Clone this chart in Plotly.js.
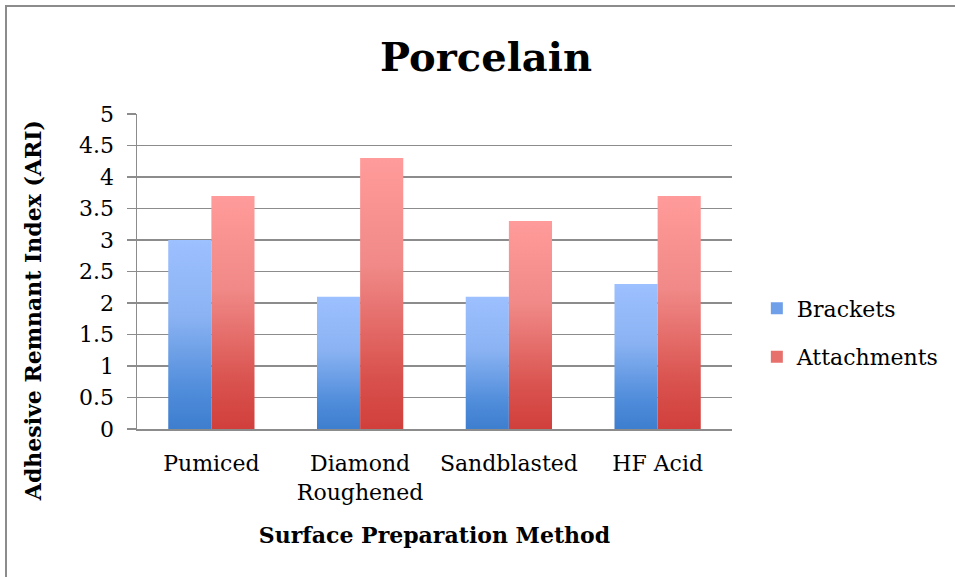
<!DOCTYPE html>
<html>
<head>
<meta charset="utf-8">
<script src="https://cdn.plot.ly/plotly-3.0.1.min.js"></script>
<style>
  html, body { margin: 0; padding: 0; background: #ffffff; }
  #wrap { position: relative; width: 955px; height: 577px; overflow: hidden; }
  #chart { position: absolute; left: 0; top: 0; width: 955px; height: 577px; }
  #frame { position: absolute; left: 5px; top: 5px; width: 1000px; height: 1000px;
           border-left: 2px solid #8c8c8c; border-top: 2px solid #8c8c8c; pointer-events: none; }
</style>
</head>
<body>
<div id="wrap">
  <div id="chart"></div>
  <div id="frame"></div>
</div>
<script>
// ---- data ----
const categories = ['Pumiced', 'Diamond Roughened', 'Sandblasted', 'HF Acid'];
const tickLabels = ['Pumiced', 'Diamond<br>Roughened', 'Sandblasted', 'HF Acid'];
const seriesNames = ['Brackets', 'Attachments'];
const brackets = [3.0, 2.1, 2.1, 2.3];
const attachments = [3.7, 4.3, 3.3, 3.7];
const yTickVals = [0, 0.5, 1, 1.5, 2, 2.5, 3, 3.5, 4, 4.5, 5];
const yTickText = ['0', '0.5', '1', '1.5', '2', '2.5', '3', '3.5', '4', '4.5', '5'];

// ---- style ----
const FONT = 'DejaVu Serif';
const FS = 22;
const BAR_W = 0.29;
const blueGrad = [[0, '#3E7ECF'], [0.2, '#4F8CDA'], [0.6, '#8BB3F3'], [1, '#9DC0FF']];
const redGrad = [[0, '#D13F3B'], [0.2, '#D9524E'], [0.6, '#F08987'], [1, '#FF9B9A']];
const legendColors = ['#6F9FE8', '#E7706D'];

function barShape(idx, value, side, name, grad) {
  const x0 = side < 0 ? idx - BAR_W : idx;
  const x1 = x0 + BAR_W;
  return {
    type: 'scatter', mode: 'none',
    x: [x0, x0, x1, x1, x0], y: [0, value, value, 0, 0],
    fill: 'toself',
    fillgradient: { type: 'vertical', colorscale: grad },
    name: name, legendgroup: name, showlegend: false,
    hoverinfo: 'skip'
  };
}

const traces = [];
brackets.forEach((v, i) => traces.push(barShape(i, v, -1, seriesNames[0], blueGrad)));
attachments.forEach((v, i) => traces.push(barShape(i, v, 1, seriesNames[1], redGrad)));
// legend entries (square swatches)
seriesNames.forEach((n, k) => traces.push({
  type: 'bar', x: [null], y: [null], name: n, legendgroup: n,
  marker: { color: legendColors[k] }, showlegend: true, hoverinfo: 'skip'
}));

const layout = {
  width: 955, height: 577,
  margin: { l: 137, r: 222, t: 114, b: 148 },
  paper_bgcolor: '#ffffff', plot_bgcolor: '#ffffff',
  font: { family: FONT, size: FS, color: '#000000' },
  title: {
    text: '<b>Porcelain</b>',
    font: { family: FONT, size: 40, color: '#000000' },
    xref: 'container', x: 0.509, xanchor: 'center',
    yref: 'container', y: 0.901, yanchor: 'middle'
  },
  xaxis: {
    type: 'linear', range: [-0.5, 3.5],
    tickmode: 'array', tickvals: [0, 1, 2, 3], ticktext: tickLabels,
    showgrid: false, zeroline: false,
    showline: true, linecolor: '#8c8c8c', linewidth: 1.5,
    ticks: '', ticklabelstandoff: 14,
    tickfont: { family: FONT, size: FS },
    title: { text: '<b>Surface Preparation Method</b>', font: { family: FONT, size: FS }, standoff: 24 },
    fixedrange: true
  },
  yaxis: {
    range: [0, 5],
    tickmode: 'array', tickvals: yTickVals, ticktext: yTickText,
    showgrid: true, gridcolor: '#8c8c8c', gridwidth: 1.5,
    zeroline: false,
    showline: true, linecolor: '#8c8c8c', linewidth: 1.5,
    ticks: 'outside', ticklen: 9, tickcolor: '#8c8c8c', tickwidth: 1.5,
    ticklabelstandoff: 8,
    tickfont: { family: FONT, size: FS },
    fixedrange: true
  },
  annotations: [{
    text: '<b>Adhesive Remnant Index (ARI)</b>',
    xref: 'paper', yref: 'paper', x: -0.1745, y: 0.3746,
    xanchor: 'center', yanchor: 'middle', textangle: -90,
    showarrow: false, font: { family: FONT, size: FS, color: '#000000' }
  }],
  legend: {
    x: 1.04, xanchor: 'left', y: 0.305, yanchor: 'middle',
    traceorder: 'grouped', tracegroupgap: 17,
    font: { family: FONT, size: FS },
    bgcolor: 'rgba(0,0,0,0)'
  },
  showlegend: true
};

Plotly.newPlot('chart', traces, layout, { displayModeBar: false, staticPlot: true });
</script>
</body>
</html>
